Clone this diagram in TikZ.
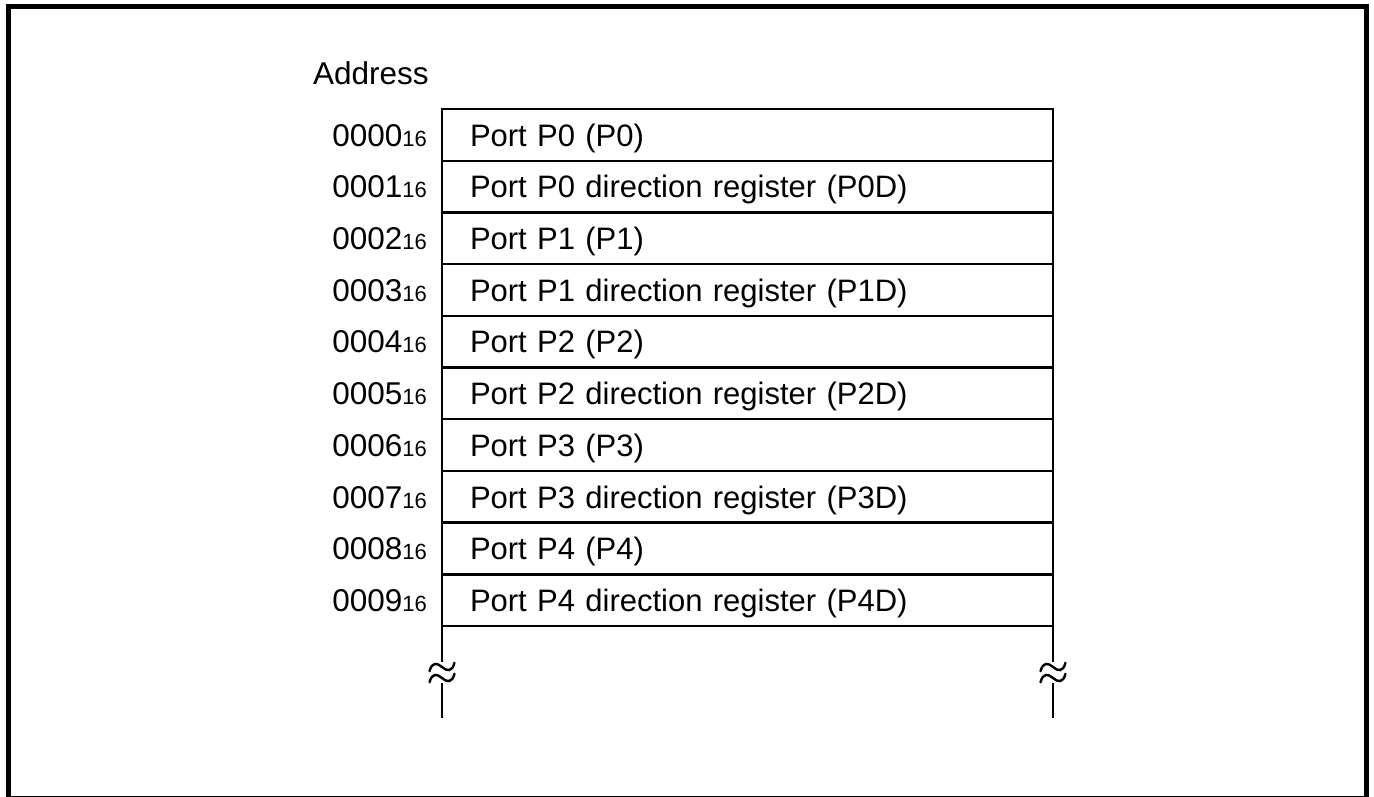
\documentclass[tikz,border=0pt]{standalone}
\usepackage{fontspec}
\setmainfont{Liberation Sans}
\begin{document}
\begin{tikzpicture}[x=1pt,y=-1pt,
  cell/.style={draw,line width=2.4pt,outer sep=0pt,minimum height=51.7pt,inner xsep=28pt,inner ysep=0pt,
    text width=555pt,align=left,text height=22.5pt,text depth=0pt,font=\fontsize{31}{36}\selectfont},
  addr/.style={anchor=base east,inner sep=0pt,font=\fontsize{31.5}{36}\selectfont},
  brk/.style={line width=2.4pt},
  frame/.style={line width=5pt}]
\useasboundingbox (0,0) rectangle (1374,796);
\draw[frame] (8.5,6.5) rectangle (1366.5,798.5);
\node[anchor=base west,inner sep=0pt,font=\fontsize{31.5}{36}\selectfont] (title) at (313,84) {Address};
\foreach \i/\t in {0/Port P0 (P0),1/Port P0 direction register (P0D),2/Port P1 (P1),3/Port P1 direction register (P1D),4/Port P2 (P2),5/Port P2 direction register (P2D),6/Port P3 (P3),7/Port P3 direction register (P3D),8/Port P4 (P4),9/Port P4 direction register (P4D)}{
  \node[cell] (r\i) at (747.5,{109+51.7*\i+25.85}) {\t};
  \node[addr] (a\i) at ([xshift=-15pt]r\i.base west) {000\i{\fontsize{22}{24}\selectfont 16}};
}
\coordinate (l1) at (442,662);
\coordinate (l2) at (442,683);
\coordinate (l3) at (442,718);
\coordinate (m1) at (1053,662);
\coordinate (m2) at (1053,683);
\coordinate (m3) at (1053,718);
\draw[brk] (r9.south west) -- (l1);
\draw[brk] (l2) -- (l3);
\draw[brk] (r9.south east) -- (m1);
\draw[brk] (m2) -- (m3);
\foreach \c in {442,1053}{
  \foreach \yy in {667,678}{
    \draw[line width=2.4pt,line cap=round,rotate around={10:(\c,\yy)}] (\c-13,\yy+2) .. controls (\c-9,\yy-7) and (\c-4,\yy-5) .. (\c,\yy) .. controls (\c+4,\yy+5) and (\c+9,\yy+7) .. (\c+13,\yy-2);
  }
}
\end{tikzpicture}
\end{document}
